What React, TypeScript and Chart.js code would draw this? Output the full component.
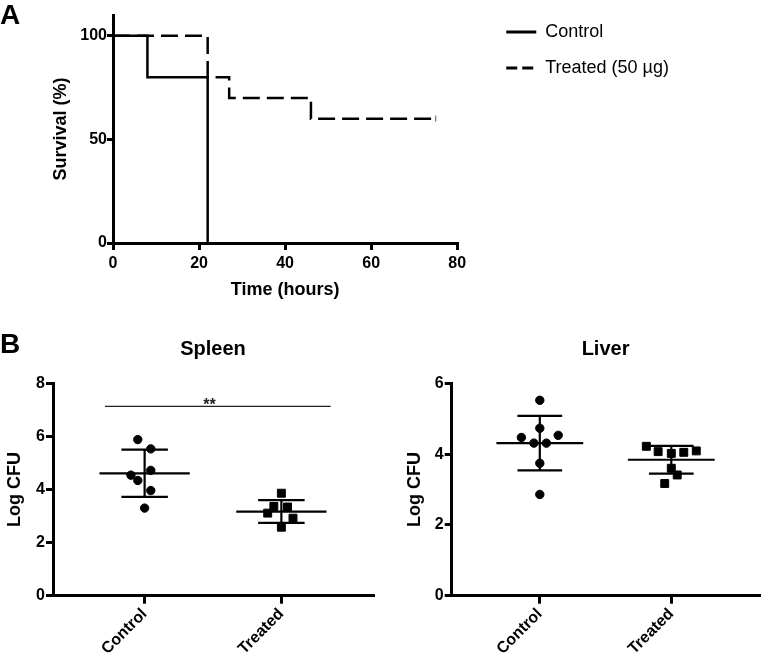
import React, { useEffect, useRef } from 'react';
import { Chart, registerables } from 'chart.js';

Chart.register(...registerables);

const FONT = '"Liberation Sans", Arial, Helvetica, sans-serif';
Chart.defaults.font.family = FONT;
Chart.defaults.color = '#000';

// ---------- Panel A: survival ----------
const timeTickValues = [0, 20, 40, 60, 80];
const survivalTickValues = [0, 50, 100];
const controlTimes = [0, 8, 22];
const controlSurvival = [100, 80, 0];
const treatedTimes = [0, 22, 27, 46, 75];
const treatedSurvival = [100, 80, 70, 60, 60];
const survivalLabels = ['Control', 'Treated (50 µg)'];

// ---------- Panel B: CFU ----------
const groups = ['Control', 'Treated'];

const spleenControl = [5.88, 5.53, 4.72, 4.54, 4.34, 3.96, 3.3];
const spleenControlJitter = [-0.05, 0.045, 0.045, -0.1, -0.05, 0.045, 0];
const spleenTreated = [3.86, 3.36, 3.34, 3.11, 2.92, 2.58];
const spleenTreatedJitter = [0, -0.055, 0.045, -0.1, 0.085, 0];
const spleenMean = [4.61, 3.17];
const spleenSD = [0.89, 0.43];
const spleenTickValues = [0, 2, 4, 6, 8];
const spleenSigFrom = -0.29;
const spleenSigTo = 1.36;
const spleenSigY = 7.13;
const spleenSigLabel = '**';

const liverControl = [5.52, 4.73, 4.47, 4.53, 4.31, 4.31, 3.74, 2.86];
const liverControlJitter = [0, 0, -0.14, 0.14, -0.045, 0.05, 0, 0];
const liverTreated = [4.22, 4.07, 4.02, 4.05, 4.09, 3.6, 3.41, 3.17];
const liverTreatedJitter = [-0.19, -0.1, 0, 0.095, 0.19, 0, 0.045, -0.05];
const liverMean = [4.31, 3.84];
const liverSD = [0.77, 0.39];
const liverTickValues = [0, 2, 4, 6];

const BLACK = '#000';
const tickFont = { family: FONT, size: 16, weight: 'bold' as const };
const titleFont = { family: FONT, size: 18, weight: 'bold' as const };

function axisStyle(tickLength: number) {
  return {
    border: { display: true, color: BLACK, width: 3 },
    grid: { display: true, drawOnChartArea: false, drawTicks: true, tickLength, lineWidth: 3, color: BLACK },
  };
}

function survivalConfig(): any {
  return {
    type: 'line',
    data: {
      datasets: [
        {
          label: survivalLabels[0],
          data: controlTimes.map((t, i) => ({ x: t, y: controlSurvival[i] })),
          stepped: 'before',
          borderColor: BLACK,
          borderWidth: 2.5,
          pointRadius: 0,
          fill: false,
        },
        {
          label: survivalLabels[1],
          data: treatedTimes.map((t, i) => ({ x: t, y: treatedSurvival[i] })),
          stepped: 'before',
          borderColor: BLACK,
          borderWidth: 2.5,
          borderDash: [17, 7],
          pointRadius: treatedTimes.map((_, i) => (i === treatedTimes.length - 1 ? 3 : 0)),
          pointStyle: 'line',
          pointRotation: 90,
          pointBorderColor: '#555',
          pointBorderWidth: 1,
          fill: false,
        },
      ],
    },
    options: {
      responsive: false,
      animation: false,
      layout: { padding: { left: 49, top: 5, right: 87, bottom: 0 } },
      plugins: {
        tooltip: { enabled: false },
        title: { display: false },
        legend: {
          position: 'right',
          align: 'start',
          maxWidth: 400,
          labels: {
            usePointStyle: true,
            pointStyleWidth: 30,
            padding: 18,
            color: BLACK,
            font: { family: FONT, size: 18, weight: 'normal' },
            generateLabels: (chart: any) =>
              chart.data.datasets.map((ds: any, i: number) => ({
                text: ds.label,
                datasetIndex: i,
                hidden: false,
                fillStyle: BLACK,
                strokeStyle: BLACK,
                fontColor: BLACK,
                lineWidth: 3,
                lineCap: 'butt',
                lineDash: ds.borderDash ? [11, 5] : [],
                pointStyle: 'line',
                rotation: 0,
              })),
          },
        },
      },
      scales: {
        x: {
          type: 'linear',
          position: 'bottom',
          min: 0,
          max: 80,
          bounds: 'data',
          ...axisStyle(7),
          afterBuildTicks: (s: any) => { s.ticks = timeTickValues.map((v) => ({ value: v })); },
          ticks: { font: tickFont, padding: 4, color: BLACK, maxRotation: 0 },
          title: { display: true, text: 'Time (hours)', font: titleFont, color: BLACK, padding: { top: 0, bottom: 14 } },
          afterFit: (s: any) => { s.height = 72; },
        },
        y: {
          type: 'linear',
          position: 'left',
          min: 0,
          max: 110,
          bounds: 'data',
          ...axisStyle(6),
          afterBuildTicks: (s: any) => { s.ticks = survivalTickValues.map((v) => ({ value: v })); },
          ticks: { font: tickFont, padding: 0, color: BLACK },
          title: { display: true, text: 'Survival (%)', font: titleFont, color: BLACK, padding: { top: 1, bottom: 0 } },
          afterFit: (s: any) => { s.width = 64; },
        },
        topGap: {
          type: 'linear',
          position: 'top',
          min: 0,
          max: 1,
          display: true,
          grid: { display: false },
          border: { display: false },
          ticks: { display: false },
          afterFit: (s: any) => { s.height = 10; },
        },
        rightGap: {
          type: 'linear',
          position: 'right',
          min: 0,
          max: 1,
          display: true,
          grid: { display: false },
          border: { display: false },
          ticks: { display: false },
          afterFit: (s: any) => { s.width = 31; },
        },
      },
    },
  };
}

const significancePlugin = {
  id: 'significanceLabel',
  afterDatasetsDraw(chart: any, _args: any, opts: any) {
    if (!opts || !opts.text) return;
    const { ctx, scales } = chart;
    const x = scales.x.getPixelForValue(opts.x);
    const y = scales.y.getPixelForValue(opts.y);
    ctx.save();
    ctx.fillStyle = '#222';
    ctx.font = `bold 16px ${FONT}`;
    ctx.textAlign = 'center';
    ctx.textBaseline = 'alphabetic';
    ctx.fillText(opts.text, x, y + 4);
    ctx.restore();
  },
};

function dotPlotConfig(p: {
  title: string;
  control: number[];
  controlJitter: number[];
  treated: number[];
  treatedJitter: number[];
  mean: number[];
  sd: number[];
  yMax: number;
  yTicks: number[];
  yAxisWidth: number;
  yTitlePad: number;
  padRight: number;
  sig?: { from: number; to: number; y: number; text: string };
}): any {
  const datasets: any[] = [];
  const series: [number[], number[], string, number][] = [
    [p.control, p.controlJitter, 'circle', 4.2],
    [p.treated, p.treatedJitter, 'rect', 5.6],
  ];
  series.forEach(([vals, jit, style, r], g) => {
    datasets.push({
      label: groups[g],
      data: vals.map((v, i) => ({ x: g + jit[i], y: v })),
      pointStyle: style,
      pointRadius: r,
      pointBackgroundColor: BLACK,
      pointBorderColor: BLACK,
      pointBorderWidth: 1,
      showLine: false,
    });
  });
  p.mean.forEach((m, g) => {
    const s = p.sd[g];
    const segs: number[][][] = [
      [[g - 0.33, m], [g + 0.33, m]],
      [[g - 0.17, m + s], [g + 0.17, m + s]],
      [[g - 0.17, m - s], [g + 0.17, m - s]],
      [[g, m - s], [g, m + s]],
    ];
    segs.forEach((seg) =>
      datasets.push({
        data: seg.map(([x, y]) => ({ x, y })),
        showLine: true,
        borderColor: BLACK,
        borderWidth: 2.2,
        pointRadius: 0,
        fill: false,
      })
    );
  });
  if (p.sig) {
    datasets.push({
      data: [{ x: p.sig.from, y: p.sig.y }, { x: p.sig.to, y: p.sig.y }],
      showLine: true,
      borderColor: '#222',
      borderWidth: 1.3,
      pointRadius: 0,
      fill: false,
    });
  }
  return {
    type: 'scatter',
    data: { datasets },
    plugins: [significancePlugin],
    options: {
      responsive: false,
      animation: false,
      layout: { padding: { left: 0, top: 0, right: p.padRight, bottom: 0 } },
      plugins: {
        legend: { display: false },
        tooltip: { enabled: false },
        title: {
          display: true,
          text: p.title,
          fullSize: false,
          color: BLACK,
          font: { family: FONT, size: 20, weight: 'bold' },
          padding: { top: 7, bottom: 22.3 },
        },
        significanceLabel: p.sig ? { text: p.sig.text, x: (p.sig.from + p.sig.to) / 2 - 0.06, y: p.sig.y } : {},
      },
      scales: {
        x: {
          type: 'linear',
          position: 'bottom',
          min: -0.67,
          max: 1.67,
          bounds: 'data',
          ...axisStyle(8),
          afterBuildTicks: (s: any) => { s.ticks = groups.map((_, i) => ({ value: i })); },
          ticks: {
            font: tickFont,
            color: BLACK,
            padding: 1,
            minRotation: 45,
            maxRotation: 45,
            callback: (v: any) => groups[v] ?? '',
          },
          afterFit: (s: any) => { s.height = 59.3; },
        },
        y: {
          type: 'linear',
          position: 'left',
          min: 0,
          max: p.yMax,
          bounds: 'data',
          ...axisStyle(7),
          afterBuildTicks: (s: any) => { s.ticks = p.yTicks.map((v) => ({ value: v })); },
          ticks: { font: tickFont, color: BLACK, padding: 1 },
          title: { display: true, text: 'Log CFU', font: titleFont, color: BLACK, padding: { top: p.yTitlePad, bottom: 0 } },
          afterFit: (s: any) => { s.width = p.yAxisWidth; },
        },
      },
    },
  };
}

function ChartCanvas({ config, left, top, width, height }: { config: () => any; left: number; top: number; width: number; height: number }) {
  const ref = useRef<HTMLCanvasElement | null>(null);
  useEffect(() => {
    if (!ref.current) return;
    const chart = new Chart(ref.current, config());
    return () => chart.destroy();
  }, []);
  return (
    <canvas
      ref={ref}
      width={width}
      height={height}
      style={{ position: 'absolute', left, top, width, height }}
    />
  );
}

const panelLabelStyle: React.CSSProperties = {
  position: 'absolute',
  left: 0,
  font: `bold 28px ${FONT}`,
  lineHeight: '28px',
  color: BLACK,
};

export default function App() {
  return (
    <div style={{ position: 'absolute', left: 0, top: 0, width: 766, height: 655, background: '#fff', overflow: 'hidden' }}>
      <ChartCanvas config={survivalConfig} left={0} top={0} width={766} height={315} />
      <ChartCanvas
        config={() =>
          dotPlotConfig({
            title: 'Spleen',
            control: spleenControl,
            controlJitter: spleenControlJitter,
            treated: spleenTreated,
            treatedJitter: spleenTreatedJitter,
            mean: spleenMean,
            sd: spleenSD,
            yMax: 8,
            yTicks: spleenTickValues,
            yAxisWidth: 53,
            yTitlePad: 4.7,
            padRight: 12,
            sig: { from: spleenSigFrom, to: spleenSigTo, y: spleenSigY, text: spleenSigLabel },
          })
        }
        left={0}
        top={330}
        width={385}
        height={325}
      />
      <ChartCanvas
        config={() =>
          dotPlotConfig({
            title: 'Liver',
            control: liverControl,
            controlJitter: liverControlJitter,
            treated: liverTreated,
            treatedJitter: liverTreatedJitter,
            mean: liverMean,
            sd: liverSD,
            yMax: 6,
            yTicks: liverTickValues,
            yAxisWidth: 61.7,
            yTitlePad: 14.2,
            padRight: 3.3,
          })
        }
        left={390}
        top={330}
        width={376}
        height={325}
      />
      <div style={{ ...panelLabelStyle, top: 1.3 }}>A</div>
      <div style={{ ...panelLabelStyle, top: 330.3 }}>B</div>
    </div>
  );
}
